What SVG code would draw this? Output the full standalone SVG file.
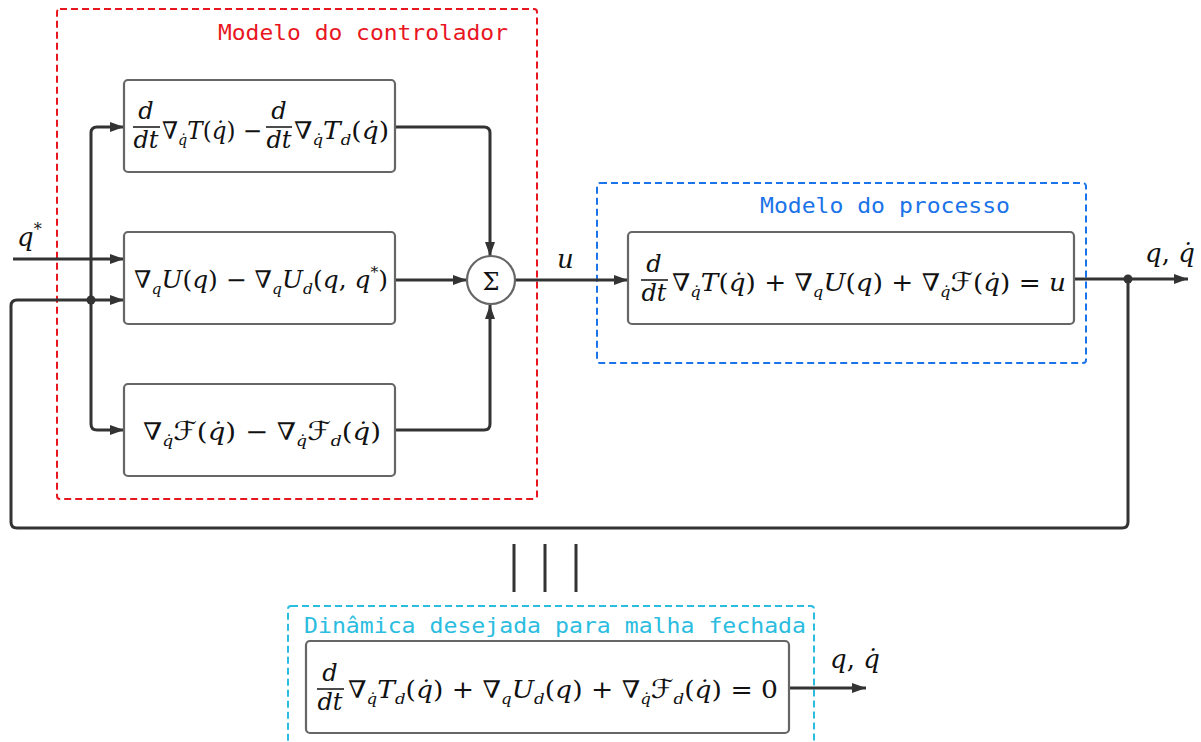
<svg xmlns="http://www.w3.org/2000/svg" width="1201" height="742" viewBox="0 0 1201 742">
  <style>
    .box { fill: #ffffff; stroke: #666666; stroke-width: 2.2; }
    .wire { fill: none; stroke: #333333; stroke-width: 3; }
    .arrow { marker-end: url(#head); }
    .group { fill: none; stroke-width: 2; stroke-dasharray: 7 4; }
    .mono { font-family: "DejaVu Sans Mono", "Liberation Mono", monospace; font-size: 22px; }
    .math { font-family: "DejaVu Serif", "Liberation Serif", serif; font-size: 24px; fill: #111111; }
    .it { font-style: italic; }
    .sub { font-size: 15px; font-style: italic; }
    .cal { font-family: "DejaVu Sans", sans-serif; font-style: italic; font-size: 26px; }
    .frac { font-style: italic; text-anchor: middle; font-size: 24px; }
    .bar { stroke: #111111; stroke-width: 1.5; }
  </style>
  <defs>
    <marker id="head" viewBox="0 0 14 10" refX="14" refY="5" markerWidth="14" markerHeight="10" markerUnits="userSpaceOnUse" orient="auto">
      <path d="M0,0 L14,5 L0,10 z" fill="#333333"/>
    </marker>
  </defs>

  <!-- dashed grouping frames -->
  <g id="controller-frame">
    <rect class="group" x="57" y="9" width="480" height="490" rx="3" stroke="#e8161f"/>
    <text class="mono" x="218" y="40" fill="#e8161f" textLength="290" lengthAdjust="spacingAndGlyphs">Modelo do controlador</text>
  </g>
  <g id="process-frame">
    <rect class="group" x="597" y="183" width="489" height="180" rx="3" stroke="#1a73e8"/>
    <text class="mono" x="760" y="213" fill="#1a73e8" textLength="250" lengthAdjust="spacingAndGlyphs">Modelo do processo</text>
  </g>
  <g id="closed-loop-frame">
    <rect class="group" x="288" y="606" width="526" height="150" rx="3" stroke="#2bbde0"/>
    <text class="mono" x="304" y="633" fill="#2bbde0" textLength="502" lengthAdjust="spacingAndGlyphs">Dinâmica desejada para malha fechada</text>
  </g>

  <!-- connectors -->
  <g id="connectors">
    <path class="wire arrow" d="M13,259 H124"/>
    <path class="wire arrow" d="M1128,279 V522 q0,6 -6,6 H17 q-6,0 -6,-6 V306 q0,-6 6,-6 H124"/>
    <path class="wire arrow" d="M91,300 V133 q0,-6 6,-6 H124"/>
    <path class="wire arrow" d="M91,300 V424 q0,6 6,6 H124"/>
    <path class="wire arrow" d="M395,127 H484 q6,0 6,6 V256"/>
    <path class="wire arrow" d="M395,430 H484 q6,0 6,-6 V305"/>
    <path class="wire arrow" d="M395,280 H467"/>
    <path class="wire arrow" d="M515,280 H628"/>
    <path class="wire arrow" d="M1074,279 H1188"/>
    <path class="wire arrow" d="M789,688 H866"/>
    <circle cx="91" cy="300" r="4.5" fill="#333333"/>
    <circle cx="1128" cy="279" r="4.5" fill="#333333"/>
  </g>

  <!-- signal labels -->
  <g id="labels" class="math">
    <text x="17" y="246" font-size="26"><tspan class="it">q</tspan><tspan font-size="16" dy="-11">*</tspan></text>
    <text x="557" y="268" class="it" font-size="26">u</text>
    <text x="1145" y="262" font-size="26"><tspan class="it">q</tspan>, <tspan class="it">q̇</tspan></text>
    <text x="830" y="668" font-size="26"><tspan class="it">q</tspan>, <tspan class="it">q̇</tspan></text>
  </g>

  <!-- equivalence bars -->
  <g id="equivalence">
    <path d="M514,544 V592 M545,544 V592 M576,544 V592" stroke="#333333" stroke-width="3"/>
  </g>

  <!-- controller: kinetic term -->
  <g id="kinetic-term">
    <rect class="box" x="124" y="80" width="271" height="92" rx="4"/>
    <g class="math">
      <text x="146" y="119" class="frac">d</text>
      <line class="bar" x1="133" y1="127" x2="160" y2="127"/>
      <text x="146" y="148" class="frac">dt</text>
      <text x="162" y="139" textLength="100" lengthAdjust="spacingAndGlyphs">∇<tspan class="sub" dy="6">q̇</tspan><tspan class="it" dy="-6">T</tspan>(<tspan class="it">q̇</tspan>) −</text>
      <text x="279" y="119" class="frac">d</text>
      <line class="bar" x1="266" y1="127" x2="292" y2="127"/>
      <text x="279" y="148" class="frac">dt</text>
      <text x="294" y="139" textLength="95" lengthAdjust="spacingAndGlyphs">∇<tspan class="sub" dy="6">q̇</tspan><tspan class="it" dy="-6">T</tspan><tspan class="sub" dy="6">d</tspan><tspan dy="-6">(</tspan><tspan class="it">q̇</tspan>)</text>
    </g>
  </g>

  <!-- controller: potential term -->
  <g id="potential-term">
    <rect class="box" x="124" y="232" width="271" height="92" rx="4"/>
    <text class="math" x="134" y="288" textLength="254" lengthAdjust="spacingAndGlyphs">∇<tspan class="sub" dy="6">q</tspan><tspan class="it" dy="-6">U</tspan>(<tspan class="it">q</tspan>) − ∇<tspan class="sub" dy="6">q</tspan><tspan class="it" dy="-6">U</tspan><tspan class="sub" dy="6">d</tspan><tspan dy="-6">(</tspan><tspan class="it">q</tspan>, <tspan class="it">q</tspan><tspan font-size="15" dy="-11">*</tspan><tspan dy="11">)</tspan></text>
  </g>

  <!-- controller: dissipation term -->
  <g id="dissipation-term">
    <rect class="box" x="124" y="384" width="271" height="92" rx="4"/>
    <text class="math" x="143" y="440" textLength="238" lengthAdjust="spacingAndGlyphs">∇<tspan class="sub" dy="6">q̇</tspan><tspan class="cal" dy="-6">ℱ</tspan>(<tspan class="it">q̇</tspan>) − ∇<tspan class="sub" dy="6">q̇</tspan><tspan class="cal" dy="-6">ℱ</tspan><tspan class="sub" dy="6">d</tspan><tspan dy="-6">(</tspan><tspan class="it">q̇</tspan>)</text>
  </g>

  <!-- summing junction -->
  <g id="sum">
    <circle cx="491" cy="280" r="24" fill="#ffffff" stroke="#666666" stroke-width="2.2"/>
    <text class="math" x="491" y="290" text-anchor="middle" font-size="28">Σ</text>
  </g>

  <!-- plant -->
  <g id="process">
    <rect class="box" x="628" y="232" width="446" height="92" rx="4"/>
    <g class="math">
      <text x="654" y="272" class="frac">d</text>
      <line class="bar" x1="641" y1="280" x2="668" y2="280"/>
      <text x="654" y="301" class="frac">dt</text>
      <text x="672" y="291" textLength="394" lengthAdjust="spacingAndGlyphs">∇<tspan class="sub" dy="6">q̇</tspan><tspan class="it" dy="-6">T</tspan>(<tspan class="it">q̇</tspan>) + ∇<tspan class="sub" dy="6">q</tspan><tspan class="it" dy="-6">U</tspan>(<tspan class="it">q</tspan>) + ∇<tspan class="sub" dy="6">q̇</tspan><tspan class="cal" dy="-6">ℱ</tspan>(<tspan class="it">q̇</tspan>) = <tspan class="it">u</tspan></text>
    </g>
  </g>

  <!-- closed-loop target dynamics -->
  <g id="closed-loop">
    <rect class="box" x="306" y="641" width="483" height="92" rx="4"/>
    <g class="math">
      <text x="330" y="681" class="frac">d</text>
      <line class="bar" x1="317" y1="689" x2="344" y2="689"/>
      <text x="330" y="710" class="frac">dt</text>
      <text x="348" y="698" textLength="430" lengthAdjust="spacingAndGlyphs">∇<tspan class="sub" dy="6">q̇</tspan><tspan class="it" dy="-6">T</tspan><tspan class="sub" dy="6">d</tspan><tspan dy="-6">(</tspan><tspan class="it">q̇</tspan>) + ∇<tspan class="sub" dy="6">q</tspan><tspan class="it" dy="-6">U</tspan><tspan class="sub" dy="6">d</tspan><tspan dy="-6">(</tspan><tspan class="it">q</tspan>) + ∇<tspan class="sub" dy="6">q̇</tspan><tspan class="cal" dy="-6">ℱ</tspan><tspan class="sub" dy="6">d</tspan><tspan dy="-6">(</tspan><tspan class="it">q̇</tspan>) = 0</text>
    </g>
  </g>
</svg>
